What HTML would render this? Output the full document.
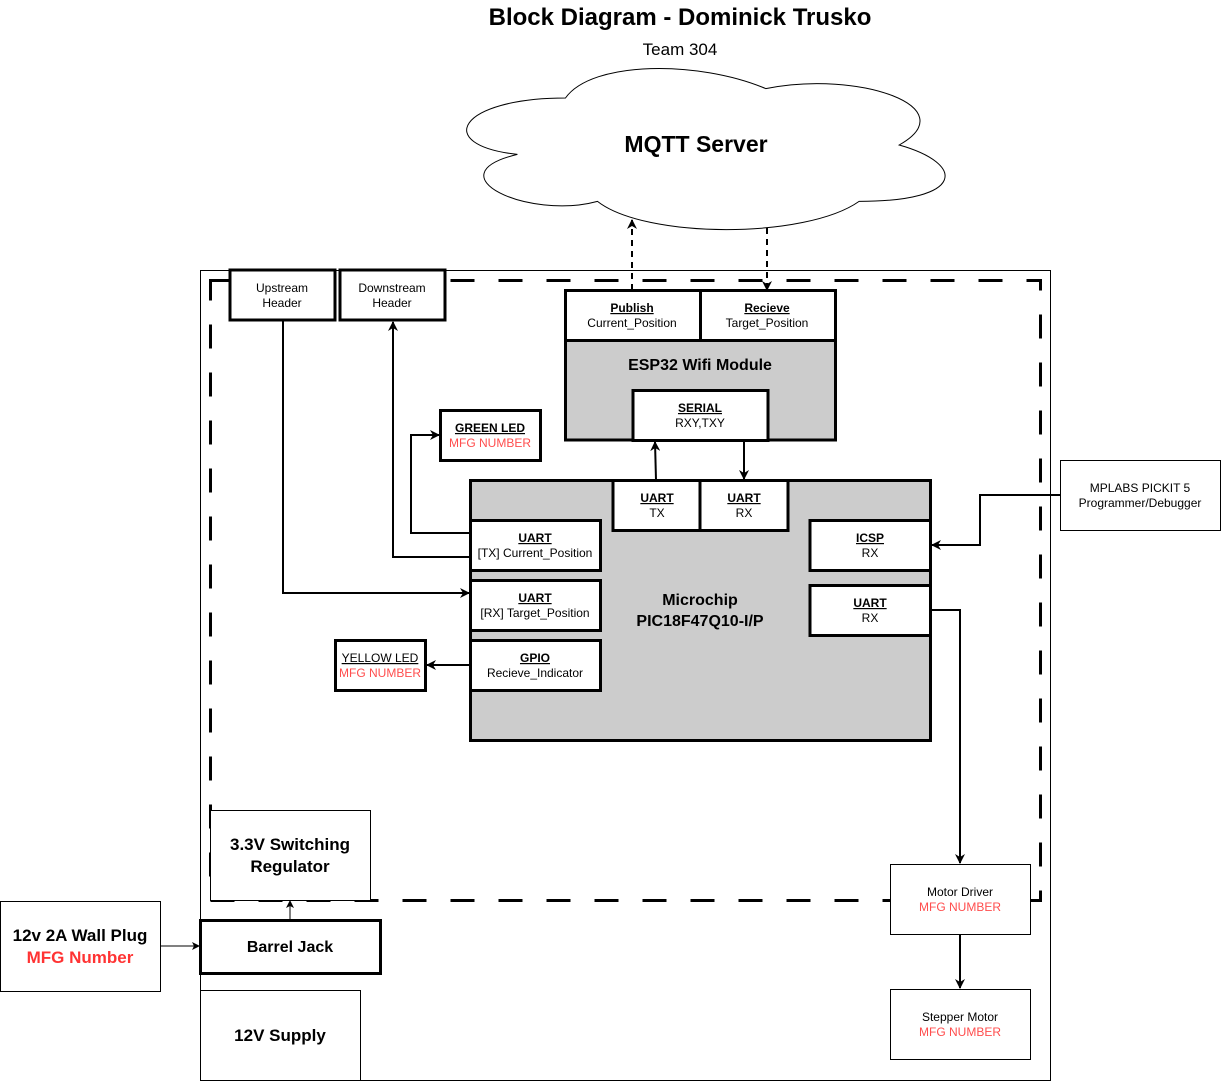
<!DOCTYPE html>
<html><head><meta charset="utf-8"><style>body{margin:0;background:#fff}svg{display:block}text{font-family:"Liberation Sans",Arial,sans-serif}</style></head><body>
<svg width="1221" height="1081" viewBox="0 0 1221 1081" xmlns="http://www.w3.org/2000/svg">
<defs>
<marker id="a" markerWidth="10" markerHeight="10" refX="9" refY="5" orient="auto" markerUnits="userSpaceOnUse"><path d="M0,0 L10,5 L0,10 L3,5 Z" fill="#000"/></marker>
<marker id="s" markerWidth="8" markerHeight="8" refX="7" refY="4" orient="auto" markerUnits="userSpaceOnUse"><path d="M0,0 L8,4 L0,8 L2,4 Z" fill="#000"/></marker>
</defs>
<text x="680" y="25" font-size="24" font-weight="bold" text-anchor="middle">Block Diagram - Dominick Trusko</text>
<text x="680" y="55" font-size="17" text-anchor="middle">Team 304</text>
<g transform="translate(432,51) scale(0.985,1)">
<path d="M135.5,47 C27,47 0,94 86.7,103.4 C0,124 97.6,169.2 168,150.4 C216.8,188 379.4,188 433.6,150.4 C542,150.4 542,112.8 474.3,94 C542,56.4 433.6,18.8 338.8,37.6 C271,9.4 162.6,9.4 135.5,47 Z" fill="#fff" stroke="#000" stroke-width="1"/>
</g>
<text x="696" y="152" font-size="23" font-weight="bold" text-anchor="middle">MQTT Server</text>
<rect x="200.5" y="270.5" width="850" height="810" fill="none" stroke="#000" stroke-width="1"/>
<rect x="210.5" y="280.5" width="830" height="620" fill="none" stroke="#000" stroke-width="3" stroke-dasharray="24,24"/>
<rect x="230" y="270" width="105" height="50" fill="#fff" stroke="#000" stroke-width="3"/>
<text x="282" y="292" font-size="12" text-anchor="middle">Upstream</text><text x="282" y="307" font-size="12" text-anchor="middle">Header</text>
<rect x="340" y="270" width="105" height="50" fill="#fff" stroke="#000" stroke-width="3"/>
<text x="392" y="292" font-size="12" text-anchor="middle">Downstream</text><text x="392" y="307" font-size="12" text-anchor="middle">Header</text>
<rect x="565.5" y="340" width="270" height="100" fill="#ccc" stroke="#000" stroke-width="3"/>
<rect x="565.5" y="290.5" width="135" height="50" fill="#fff" stroke="#000" stroke-width="3"/>
<rect x="700.5" y="290.5" width="135" height="50" fill="#fff" stroke="#000" stroke-width="3"/>
<text x="632" y="312" font-size="12" font-weight="bold" text-anchor="middle" text-decoration="underline">Publish</text>
<text x="632" y="327" font-size="12" text-anchor="middle">Current_Position</text>
<text x="767" y="312" font-size="12" font-weight="bold" text-anchor="middle" text-decoration="underline">Recieve</text>
<text x="767" y="327" font-size="12" text-anchor="middle">Target_Position</text>
<text x="700" y="370" font-size="16" font-weight="bold" text-anchor="middle">ESP32 Wifi Module</text>
<rect x="633" y="390.5" width="135" height="50" fill="#fff" stroke="#000" stroke-width="3"/>
<text x="700" y="412" font-size="12" font-weight="bold" text-anchor="middle" text-decoration="underline">SERIAL</text>
<text x="700" y="427" font-size="12" text-anchor="middle">RXY,TXY</text>
<line x1="632" y1="290" x2="632" y2="220" stroke="#000" stroke-width="2" stroke-dasharray="6,5" marker-end="url(#a)"/>
<line x1="767" y1="228" x2="767" y2="290" stroke="#000" stroke-width="2" stroke-dasharray="6,5" marker-end="url(#a)"/>
<rect x="470.5" y="480.5" width="460" height="260" fill="#ccc" stroke="#000" stroke-width="3"/>
<text x="700" y="605" font-size="16" font-weight="bold" text-anchor="middle">Microchip</text>
<text x="700" y="626" font-size="16" font-weight="bold" text-anchor="middle">PIC18F47Q10-I/P</text>
<g font-size="12" text-anchor="middle">
<rect x="613" y="480.5" width="87" height="50" fill="#fff" stroke="#000" stroke-width="3"/>
<text x="657" y="502" font-weight="bold" text-decoration="underline">UART</text><text x="657" y="517">TX</text>
<rect x="700" y="480.5" width="88" height="50" fill="#fff" stroke="#000" stroke-width="3"/>
<text x="744" y="502" font-weight="bold" text-decoration="underline">UART</text><text x="744" y="517">RX</text>
<rect x="470.5" y="520.5" width="130" height="50" fill="#fff" stroke="#000" stroke-width="3"/>
<text x="535" y="542" font-weight="bold" text-decoration="underline">UART</text><text x="535" y="557">[TX] Current_Position</text>
<rect x="470.5" y="580.5" width="130" height="50" fill="#fff" stroke="#000" stroke-width="3"/>
<text x="535" y="602" font-weight="bold" text-decoration="underline">UART</text><text x="535" y="617">[RX] Target_Position</text>
<rect x="470.5" y="640.5" width="130" height="50" fill="#fff" stroke="#000" stroke-width="3"/>
<text x="535" y="662" font-weight="bold" text-decoration="underline">GPIO</text><text x="535" y="677">Recieve_Indicator</text>
<rect x="810" y="520.5" width="120.5" height="50" fill="#fff" stroke="#000" stroke-width="3"/>
<text x="870" y="542" font-weight="bold" text-decoration="underline">ICSP</text><text x="870" y="557">RX</text>
<rect x="810" y="585.5" width="120.5" height="50" fill="#fff" stroke="#000" stroke-width="3"/>
<text x="870" y="607" font-weight="bold" text-decoration="underline">UART</text><text x="870" y="622">RX</text>
<rect x="440.5" y="410.5" width="100" height="50" fill="#fff" stroke="#000" stroke-width="3"/>
<text x="490" y="432" font-weight="bold" text-decoration="underline">GREEN LED</text><text x="490" y="447" fill="#ff4d4d">MFG NUMBER</text>
<rect x="335.5" y="640.5" width="90" height="50" fill="#fff" stroke="#000" stroke-width="3"/>
<text x="380" y="662" text-decoration="underline">YELLOW LED</text><text x="380" y="677" fill="#ff4d4d">MFG NUMBER</text>
<rect x="1060.5" y="460.5" width="160" height="70" fill="#fff" stroke="#000" stroke-width="1"/>
<text x="1140" y="492">MPLABS PICKIT 5</text><text x="1140" y="507">Programmer/Debugger</text>
<rect x="890.5" y="864.5" width="140" height="70" fill="#fff" stroke="#000" stroke-width="1"/>
<text x="960" y="896">Motor Driver</text><text x="960" y="911" fill="#ff4d4d">MFG NUMBER</text>
<rect x="890.5" y="989.5" width="140" height="70" fill="#fff" stroke="#000" stroke-width="1"/>
<text x="960" y="1021">Stepper Motor</text><text x="960" y="1036" fill="#ff4d4d">MFG NUMBER</text>
</g>
<rect x="210.5" y="810.5" width="160" height="90" fill="#fff" stroke="#000" stroke-width="1"/>
<text x="290" y="850" font-size="17" font-weight="bold" text-anchor="middle">3.3V Switching</text>
<text x="290" y="872" font-size="17" font-weight="bold" text-anchor="middle">Regulator</text>
<rect x="200.5" y="920.5" width="180" height="53" fill="#fff" stroke="#000" stroke-width="3"/>
<text x="290" y="952" font-size="16" font-weight="bold" text-anchor="middle">Barrel Jack</text>
<rect x="200.5" y="990.5" width="160" height="90" fill="#fff" stroke="#000" stroke-width="1"/>
<text x="280" y="1041" font-size="17" font-weight="bold" text-anchor="middle">12V Supply</text>
<rect x="0.5" y="901.5" width="160" height="90" fill="#fff" stroke="#000" stroke-width="1"/>
<text x="80" y="941" font-size="17" font-weight="bold" text-anchor="middle">12v 2A Wall Plug</text>
<text x="80" y="963" font-size="17" font-weight="bold" text-anchor="middle" fill="#ff3333">MFG Number</text>
<g fill="none" stroke="#000" stroke-width="2">
<line x1="656" y1="480" x2="655" y2="442" marker-end="url(#a)"/>
<line x1="744" y1="440" x2="744" y2="479" marker-end="url(#a)"/>
<polyline points="470,533 411,533 411,435 439,435" marker-end="url(#a)"/>
<polyline points="470,557 393,557 393,322" marker-end="url(#a)"/>
<polyline points="283,320 283,593 469,593" marker-end="url(#a)"/>
<line x1="470" y1="665" x2="427" y2="665" marker-end="url(#a)"/>
<polyline points="1060,495 980,495 980,545 932,545" marker-end="url(#a)"/>
<polyline points="930,610 960,610 960,863" marker-end="url(#a)"/>
<line x1="960" y1="934" x2="960" y2="988" marker-end="url(#a)"/>
</g>
<g fill="none" stroke="#000" stroke-width="1">
<line x1="160" y1="946" x2="199" y2="946" marker-end="url(#s)"/>
<line x1="290" y1="920" x2="290" y2="901" marker-end="url(#s)"/>
</g>
</svg>
</body></html>
